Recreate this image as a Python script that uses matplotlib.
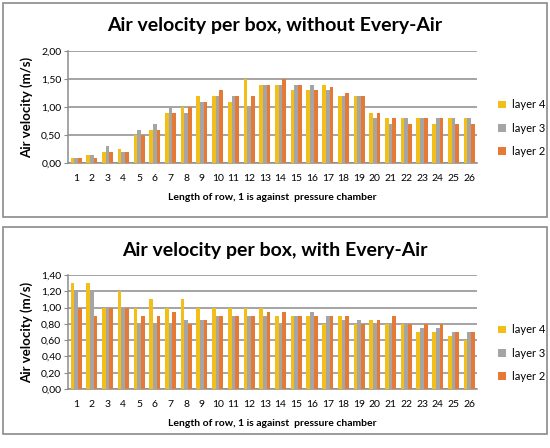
import numpy as np
import matplotlib
matplotlib.use("Agg")
import matplotlib.pyplot as plt
from matplotlib.patches import Rectangle
from matplotlib.ticker import FuncFormatter

plt.rcParams['font.family'] = ['Lato', 'DejaVu Sans']

rows = list(range(1, 27))
series = ["layer 4", "layer 3", "layer 2"]
colors = ["#F2BE1A", "#A5A5A5", "#E47A35"]

# without Every-Air
without_l4 = [0.10, 0.15, 0.20, 0.25, 0.50, 0.60, 0.90, 1.00, 1.20, 1.20, 1.10, 1.50, 1.40,
              1.40, 1.30, 1.30, 1.40, 1.20, 1.20, 0.90, 0.80, 0.80, 0.80, 0.70, 0.80, 0.80]
without_l3 = [0.10, 0.15, 0.30, 0.20, 0.60, 0.70, 1.00, 0.90, 1.10, 1.20, 1.20, 1.00, 1.40,
              1.40, 1.40, 1.40, 1.30, 1.20, 1.20, 0.80, 0.70, 0.80, 0.80, 0.80, 0.80, 0.80]
without_l2 = [0.10, 0.10, 0.20, 0.20, 0.50, 0.60, 0.90, 1.00, 1.10, 1.30, 1.20, 1.20, 1.40,
              1.50, 1.40, 1.30, 1.35, 1.25, 1.20, 0.90, 0.80, 0.70, 0.80, 0.80, 0.70, 0.70]

# with Every-Air
with_l4 = [1.30, 1.30, 1.00, 1.20, 1.00, 1.10, 1.00, 1.10, 1.00, 1.00, 1.00, 1.00, 1.00,
           0.90, 0.90, 0.90, 0.80, 0.90, 0.80, 0.85, 0.80, 0.80, 0.70, 0.70, 0.65, 0.60]
with_l3 = [1.20, 1.20, 1.00, 1.00, 0.80, 0.80, 0.80, 0.85, 0.85, 0.90, 0.90, 0.90, 0.90,
           0.80, 0.90, 0.95, 0.90, 0.85, 0.85, 0.80, 0.80, 0.80, 0.75, 0.75, 0.70, 0.70]
with_l2 = [1.00, 0.90, 1.00, 1.00, 0.90, 0.90, 0.95, 0.80, 0.85, 0.90, 0.90, 0.90, 0.95,
           0.95, 0.90, 0.90, 0.90, 0.90, 0.80, 0.85, 0.90, 0.80, 0.80, 0.80, 0.70, 0.70]

charts = [
    ("Air velocity per box, without Every-Air", [without_l4, without_l3, without_l2], 2.0, 0.5),
    ("Air velocity per box, with Every-Air", [with_l4, with_l3, with_l2], 1.4, 0.2),
]

fig = plt.figure(figsize=(5.5, 4.48), dpi=100)

# panel frames (pixel-measured)
frames = [(0.0055, 0.5156, 0.989, 0.4777), (0.0055, 0.0313, 0.989, 0.4620)]
axes_pos = [[0.1242, 0.6355, 0.7431, 0.2507], [0.1242, 0.1317, 0.7431, 0.2545]]
title_y = [0.942, 0.440]
legend_y = [0.714, 0.212]

comma = FuncFormatter(lambda v, p: f"{v:.2f}".replace(".", ","))
x = np.arange(len(rows))
w = 0.235

for i, (title, data, ymax, step) in enumerate(charts):
    fx, fy, fw, fh = frames[i]
    fig.patches.append(Rectangle((fx, fy), fw, fh, transform=fig.transFigure,
                                 fill=False, edgecolor="#8a8a8a", linewidth=1.2))
    ax = fig.add_axes(axes_pos[i])
    for k, vals in enumerate(data):
        ax.bar(x + (k - 1) * w, vals, w, color=colors[k], label=series[k], zorder=3)
    ax.set_xlim(-0.5, len(rows) - 0.5)
    ax.set_ylim(0, ymax)
    ax.set_yticks(np.arange(0, ymax + step / 2, step))
    ax.yaxis.set_major_formatter(comma)
    ax.set_xticks(x)
    ax.set_xticklabels([str(r) for r in rows])
    ax.grid(axis="y", color="#8c8c8c", linewidth=1.1, zorder=0)
    for s in ["top", "right"]:
        ax.spines[s].set_visible(False)
    ax.spines["left"].set_color("#8c8c8c")
    ax.spines["bottom"].set_color("#8c8c8c")
    ax.spines["left"].set_linewidth(1.1)
    ax.spines["bottom"].set_linewidth(1.1)
    ax.tick_params(axis="y", length=3, color="#8c8c8c", labelsize=7.5, pad=2)
    ax.tick_params(axis="x", length=0, labelsize=7.5, pad=8)
    ax.set_ylabel("Air velocity (m/s)", fontsize=9.5, fontweight="bold", labelpad=6)
    ax.set_xlabel("Length of row, 1 is against  pressure chamber", fontsize=7.5,
                  fontweight="bold", labelpad=7)
    fig.text(0.50, title_y[i], title, ha="center", va="center", fontsize=14, fontweight="bold")
    ax.legend(loc="center left", bbox_to_anchor=(0.888, legend_y[i]), bbox_transform=fig.transFigure,
              frameon=False, fontsize=8, handlelength=0.7, handleheight=0.7,
              labelspacing=1.1, handletextpad=0.5)

fig.savefig("out.png", dpi=100)
